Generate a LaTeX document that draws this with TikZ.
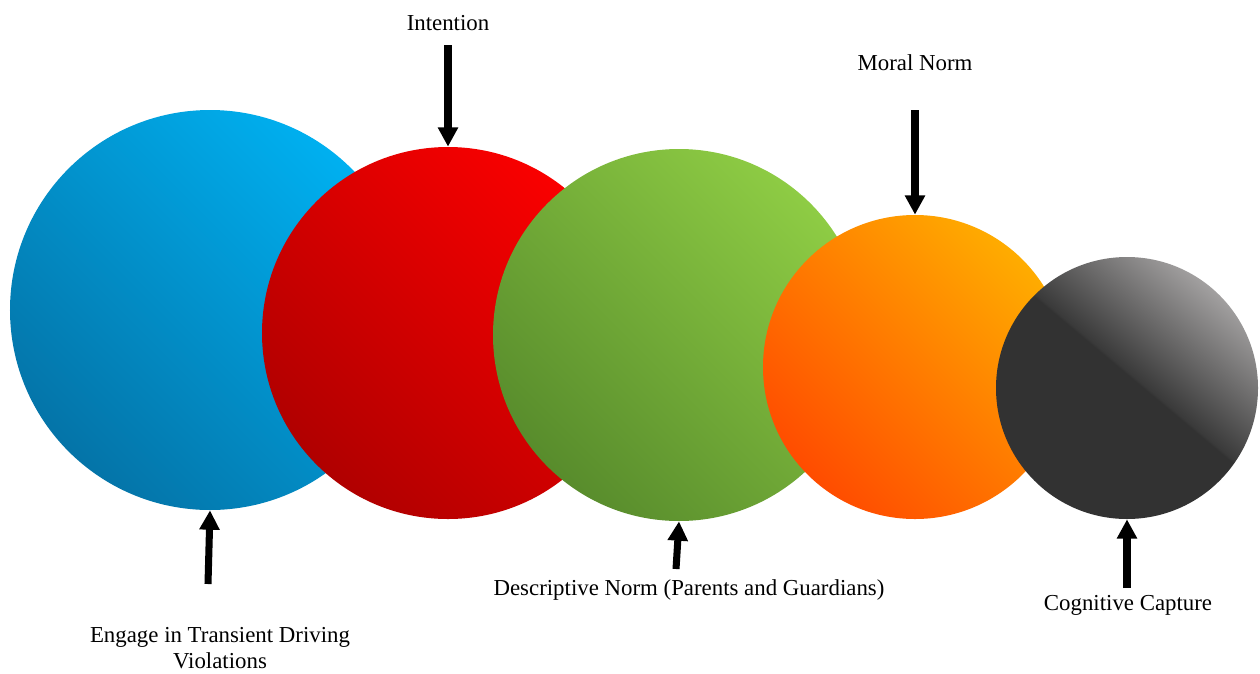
\documentclass[tikz,border=0pt]{standalone}
\usepackage{fontspec}
\setmainfont{Liberation Serif}
\usetikzlibrary{arrows.meta}
\definecolor{bluelight}{RGB}{0, 176, 240}
\definecolor{bluedark}{RGB}{4, 116, 168}
\definecolor{redlight}{RGB}{250, 0, 0}
\definecolor{reddark}{RGB}{176, 0, 0}
\definecolor{greenlight}{RGB}{142, 204, 68}
\definecolor{greendark}{RGB}{88, 140, 44}
\definecolor{orangelight}{RGB}{255, 172, 0}
\definecolor{orangedark}{RGB}{255, 76, 0}
\definecolor{capdark}{RGB}{50, 50, 50}
\definecolor{capmid}{RGB}{58, 58, 58}
\definecolor{caplight}{RGB}{162, 160, 160}
\pgfdeclareverticalshading{capshade}{100bp}{color(0bp)=(capdark); color(52bp)=(capdark); color(52.5bp)=(capmid); color(75bp)=(caplight); color(100bp)=(caplight)}
\tikzset{ball/.style = {circle, inner sep = 0pt},
  push/.style = {line width = 4pt, -{Triangle[width = 11pt, length = 11pt]}},
  lbl/.style = {font = \fontsize{13}{15}\selectfont, align = center}}

\begin{document}
\begin{tikzpicture}[x = 0.2mm, y = -0.2mm]
\useasboundingbox (0,0) rectangle (1260,673);
% the five balls, left to right
\node[ball, minimum size = 8cm, top color = bluelight, bottom color = bluedark, shading angle = -45] (blue) at (210,310) {};
\node[ball, minimum size = 7.44cm, top color = redlight, bottom color = reddark, shading angle = -45] (red) at (448,333) {};
\node[ball, minimum size = 7.44cm, top color = greenlight, bottom color = greendark, shading angle = -45] (green) at (679,335) {};
\node[ball, minimum size = 6.08cm, top color = orangelight, bottom color = orangedark, shading angle = -45] (orange) at (915,367) {};
\node[ball, minimum size = 5.24cm, shade, shading = capshade, shading angle = -40] (gray) at (1127,388) {};
% labels
\node[lbl] (intent) at (448,23) {Intention};
\node[lbl] (moral) at (915,63) {Moral Norm};
\node[lbl] (engage) at (220,648) {Engage in Transient Driving\\Violations};
\node[lbl] (descr) at (689,590) {Descriptive Norm (Parents and Guardians)};
\node[lbl] (capture) at (1128,605) {Cognitive Capture};
% arrow tails
\coordinate (tintent) at (448,45);
\coordinate (tmoral) at (915,110);
\coordinate (tengage) at (208,584);
\coordinate (tdescr) at (676,569);
\coordinate (tcapture) at (1127,588);
\draw[push] (tintent) -- (red.north);
\draw[push] (tmoral) -- (orange.north);
\draw[push] (tengage) -- (blue.south);
\draw[push] (tdescr) -- (green.south);
\draw[push] (tcapture) -- (gray.south);
\end{tikzpicture}
\end{document}
